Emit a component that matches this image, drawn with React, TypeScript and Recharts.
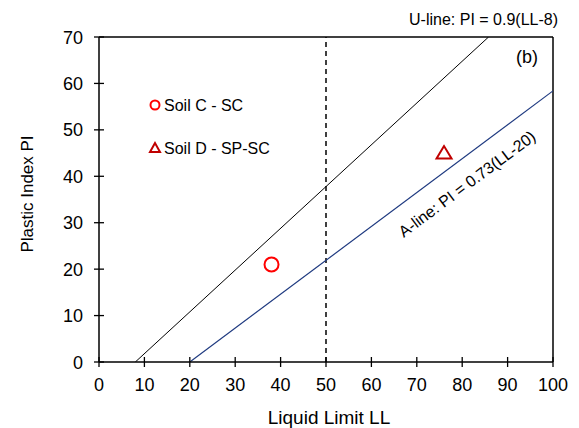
import React from 'react'
import { ComposedChart, Line, Scatter, XAxis, YAxis, ReferenceLine } from 'recharts'

const xTicks = [0, 10, 20, 30, 40, 50, 60, 70, 80, 90, 100]
const yTicks = [0, 10, 20, 30, 40, 50, 60, 70]

// U-line PI = 0.9(LL-8), A-line PI = 0.73(LL-20), end points
const uLine = [
  { ll: 8, pi: 0 },
  { ll: 85.8, pi: 70 },
]
const aLine = [
  { ll: 20, pi: 0 },
  { ll: 100, pi: 58.4 },
]

const soilC = [{ ll: 38, pi: 21 }]
const soilD = [{ ll: 76, pi: 45 }]

const dividerLL = 50

const font = 'Liberation Sans, Arial, sans-serif'

const XTick = (props: any) => {
  const { x, y, payload } = props
  return (
    <g>
      <line x1={x} x2={x} y1={y - 5} y2={y + 5} stroke="#000" strokeWidth={1.3} />
      <text x={x} y={y + 29} textAnchor="middle" fontSize={18} fontFamily={font} fill="#000">
        {payload.value}
      </text>
    </g>
  )
}

const YTick = (props: any) => {
  const { x, y, payload } = props
  return (
    <g>
      <line x1={x - 5} x2={x + 5} y1={y} y2={y} stroke="#000" strokeWidth={1.3} />
      <text x={x - 16} y={y + 6.5} textAnchor="end" fontSize={18} fontFamily={font} fill="#000">
        {payload.value}
      </text>
    </g>
  )
}

const circleShape = (props: any) => (
  <circle cx={props.cx} cy={props.cy} r={7} fill="none" stroke="#ff0000" strokeWidth={2} />
)

const triangleShape = (props: any) => {
  const { cx, cy } = props
  return (
    <polygon
      points={`${cx},${cy - 7} ${cx - 7.5},${cy + 5.5} ${cx + 7.5},${cy + 5.5}`}
      fill="none"
      stroke="#c00000"
      strokeWidth={2}
    />
  )
}

export default function App() {
  return (
    <div style={{ position: 'absolute', left: 0, top: 0, width: 579, height: 428, background: '#fff' }}>
      <ComposedChart
        width={579}
        height={428}
        margin={{ top: 37, right: 26, bottom: 0, left: 0 }}
        style={{ fontFamily: font }}
      >
        <XAxis
          type="number"
          dataKey="ll"
          domain={[0, 100]}
          ticks={xTicks}
          interval={0}
          height={66}
          tickSize={0}
          tickMargin={0}
          tickLine={false}
          tick={<XTick />}
          axisLine={{ stroke: '#000', strokeWidth: 1.5 }}
          allowDataOverflow
        />
        <YAxis
          type="number"
          dataKey="pi"
          domain={[0, 70]}
          ticks={yTicks}
          interval={0}
          width={99}
          tickSize={0}
          tickMargin={0}
          tickLine={false}
          tick={<YTick />}
          axisLine={{ stroke: '#000', strokeWidth: 1.5 }}
          allowDataOverflow
        />
        <ReferenceLine y={70} stroke="#000" strokeWidth={1.5} />
        <ReferenceLine x={100} stroke="#000" strokeWidth={1.5} />
        <ReferenceLine x={dividerLL} stroke="#000" strokeWidth={1.5} strokeDasharray="5 4" />
        <Line data={uLine} dataKey="pi" stroke="#000" strokeWidth={1} dot={false} isAnimationActive={false} />
        <Line data={aLine} dataKey="pi" stroke="#1f3a80" strokeWidth={1.2} dot={false} isAnimationActive={false} />
        <Scatter name="Soil C - SC" data={soilC} shape={circleShape} isAnimationActive={false} />
        <Scatter name="Soil D - SP-SC" data={soilD} shape={triangleShape} isAnimationActive={false} />
      </ComposedChart>
      <svg
        width={579}
        height={428}
        style={{ position: 'absolute', left: 0, top: 0, pointerEvents: 'none' }}
        fontFamily={font}
      >
        {/* legend */}
        <circle cx={155} cy={105} r={4.5} fill="none" stroke="#ff0000" strokeWidth={2} />
        <text x={164} y={111} fontSize={16} fill="#000">Soil C - SC</text>
        <polygon points="155,143 150,152 160,152" fill="none" stroke="#c00000" strokeWidth={2} />
        <text x={164} y={154} fontSize={16} fill="#000">Soil D - SP-SC</text>

        <text x={558} y={25} textAnchor="end" fontSize={16} fill="#000">U-line: PI = 0.9(LL-8)</text>
        <text x={516} y={63} fontSize={18} fill="#000">(b)</text>
        <text
          x={467}
          y={184}
          textAnchor="middle"
          dy="0.35em"
          fontSize={16}
          fill="#000"
          transform="rotate(-36.7 467 184)"
        >
          A-line: PI = 0.73(LL-20)
        </text>
        <text x={329} y={424} textAnchor="middle" fontSize={19} fill="#000">Liquid Limit LL</text>
        <text
          x={27}
          y={194}
          textAnchor="middle"
          dy="0.35em"
          fontSize={17}
          fill="#000"
          transform="rotate(-90 27 194)"
        >
          Plastic Index PI
        </text>
      </svg>
    </div>
  )
}
